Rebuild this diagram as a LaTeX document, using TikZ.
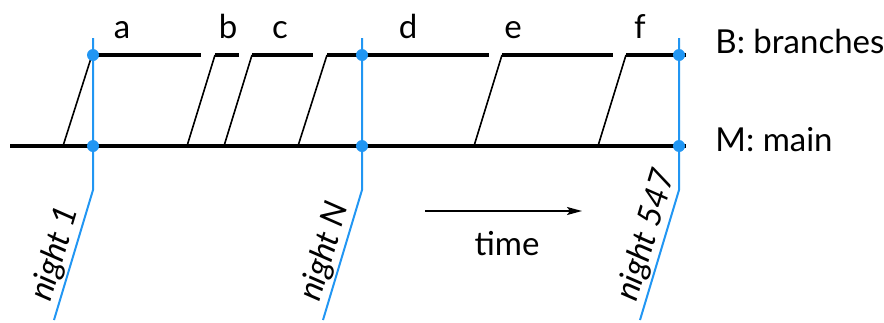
\documentclass[tikz,border=0pt]{standalone}
\usepackage{fontspec}
\setmainfont{Lato}
\usetikzlibrary{arrows.meta}
\definecolor{nightblue}{RGB}{33,150,243}
\begin{document}
\begin{tikzpicture}[x=0.5pt,y=-0.5pt,
  trunkline/.style={black,line width=1.7pt},
  branchline/.style={black,line width=1.7pt},
  forkline/.style={black,line width=0.8pt},
  nightline/.style={nightblue,line width=1pt},
  nightdot/.style={circle,fill=nightblue,inner sep=0pt,minimum size=6pt},
  lbl/.style={font=\fontsize{16.5}{20}\selectfont,inner sep=0pt},
  nightlabel/.style={lbl,font=\fontsize{16.5}{20}\selectfont\itshape,sloped,anchor=south west,inner sep=1pt},
  timearrow/.style={black,line width=0.8pt,-{Stealth[length=7.5pt,width=4pt,inset=1.5pt]}}]
\useasboundingbox (0,0) rectangle (884,322);

% main line
\coordinate (m0) at (10,146);
\coordinate (m1) at (686,146);
\draw[trunkline] (m0) -- (m1);

% branches: fork point on main, start on B, end on B
\foreach \n/\fx/\bx/\ex in {a/63/92/201, b/187/215/239, c/224/252/313,
                           d/298/327/489, e/474/502/613, f/598/626/686}{
  \coordinate (\n-fork) at (\fx,146);
  \coordinate (\n-start) at (\bx,55);
  \coordinate (\n-end) at (\ex,55);
  \draw[forkline] (\n-fork) -- (\n-start);
  \draw[branchline] (\n-start) -- (\n-end);
}

% branch names
\node[lbl,anchor=base] (la) at (122,38) {a};
\node[lbl,anchor=base] (lb) at (228,38) {b};
\node[lbl,anchor=base] (lc) at (280,38) {c};
\node[lbl,anchor=base] (ld) at (408,38) {d};
\node[lbl,anchor=base] (le) at (513,38) {e};
\node[lbl,anchor=base] (lf) at (640,38) {f};

% line names
\node[lbl,anchor=base west] (lB) at (715,53) {B: branches};
\node[lbl,anchor=base west] (lM) at (715,151) {M: main};

% nightly snapshots, labels written along the slanted foot
\foreach \n/\x/\lab in {one/93/night 1, mid/362/night N, last/679/night 547}{
  \coordinate (\n-top) at (\x,38);
  \coordinate (\n-knee) at (\x,190);
  \coordinate (\n-foot) at (\x-39,320);
  \draw[nightline] (\n-top) -- (\n-knee) -- (\n-foot);
  \node[nightdot] (\n-B) at (\x,55) {};
  \node[nightdot] (\n-M) at (\x,146) {};
  \path (\n-foot) -- (\n-knee) node[nightlabel,pos=0.095] (\n-label) {\lab};
}

% time axis
\coordinate (t0) at (425,211);
\coordinate (t1) at (582,211);
\draw[timearrow] (t0) -- (t1);
\node[lbl,anchor=base] (ltime) at (507,255) {time};
\end{tikzpicture}
\end{document}
